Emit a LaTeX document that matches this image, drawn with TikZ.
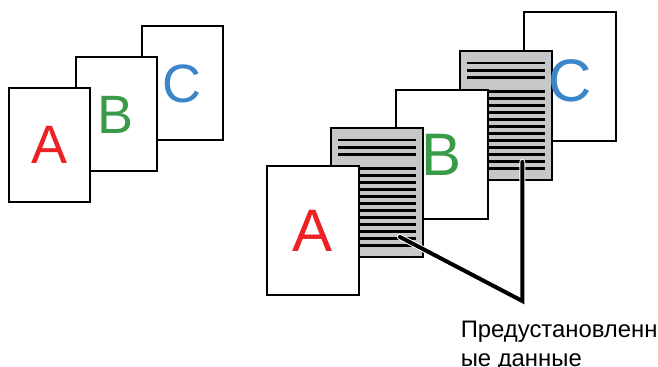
\documentclass[tikz,border=0pt]{standalone}
\usepackage{fontspec}
\setmainfont{Liberation Sans}
\usepackage{tikz}
\usetikzlibrary{calc}
\definecolor{letterred}{HTML}{ED2024}
\definecolor{lettergreen}{HTML}{399B48}
\definecolor{letterblue}{HTML}{3B86C8}
\definecolor{presetgray}{HTML}{C6C7C9}

\begin{document}
\begin{tikzpicture}[x=0.75pt, y=-0.75pt,
    page/.style={draw=black, line width=1.5pt, fill=white, inner sep=0pt, outer sep=0pt,
        minimum width=60.75pt, minimum height=85.5pt},
    bigpage/.style={page, minimum width=69pt, minimum height=96.75pt},
    preset/.style={bigpage, fill=presetgray},
    letter/.style={font=\fontsize{40.5}{40.5}\selectfont, inner sep=0pt},
    bigletter/.style={font=\fontsize{45}{45}\selectfont, inner sep=0pt},
    dataline/.style={line width=2pt}]
    \useasboundingbox (0,0) rectangle (658,367);

    % Plain originals
    \node[page] (lC) at (182,83.5) {};
    \node[page] (lB) at (116,114.5) {};
    \node[page] (lA) at (49.5,145) {};
    \node[letter, text=letterred] (tlA) at (lA) {A};
    \node[letter, text=lettergreen] (tlB) at (lB) {B};
    \node[letter, text=letterblue] (tlC) at (lC) {C};

    % Originals with preset sheets in between
    \node[bigpage] (rC) at (570,76.5) {};
    \node[preset] (g2) at (506,116) {};
    \foreach \dy in {11.5,18.75,26} {
        \draw[dataline] ($(g2.north west)+(7,\dy)$) -- ($(g2.north east)+(-7,\dy)$);
    }
    \foreach \k in {0,...,11} {
        \draw[dataline] ($(g2.north west)+(7,39.8+7*\k)$) -- ($(g2.north east)+(-7,39.8+7*\k)$);
    }
    \node[bigpage] (rB) at (441.5,154.5) {};
    \node[preset] (g1) at (377,193) {};
    \foreach \dy in {11.5,18.75,26} {
        \draw[dataline] ($(g1.north west)+(7,\dy)$) -- ($(g1.north east)+(-7,\dy)$);
    }
    \foreach \k in {0,...,11} {
        \draw[dataline] ($(g1.north west)+(7,39.8+7*\k)$) -- ($(g1.north east)+(-7,39.8+7*\k)$);
    }
    \node[bigpage] (rA) at (312.5,230.5) {};
    \node[bigletter, text=letterred] (trA) at (rA) {A};
    \node[bigletter, text=lettergreen] (trB) at (rB) {B};
    \node[bigletter, text=letterblue] (trC) at (570,81) {C};

    % Leader to the label
    \coordinate (tip1) at (400,237);
    \coordinate (bend) at (522.3,301);
    \coordinate (tip2) at (522.3,162);
    \draw[white, line width=4.5pt, line cap=round] (tip1) -- (bend) -- (tip2);
    \draw[black, line width=3pt, line cap=round] (tip1) -- (bend) -- (tip2);
    \node[anchor=north west, align=left, inner sep=0pt,
        font=\fontsize{17.9}{21}\selectfont] (lbl) at (460.5,321.2)
        {Предустановленн\\[0.5pt]ые данные};
\end{tikzpicture}
\end{document}
